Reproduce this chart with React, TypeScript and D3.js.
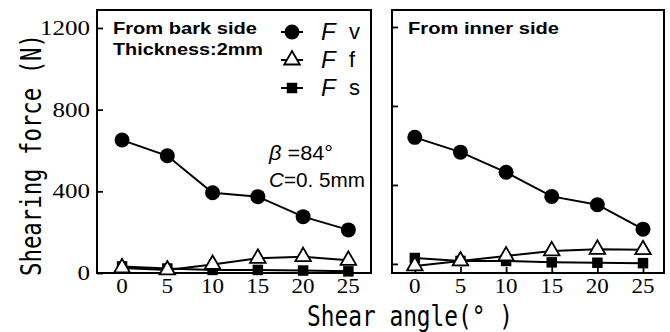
import React, { useRef, useEffect } from 'react';
import { select, scaleLinear, line, symbol, symbolTriangle, symbolSquare, axisBottom, axisLeft } from 'd3';

const angles = [0, 5, 10, 15, 20, 25];
const yTicks = [0, 400, 800, 1200];

// From bark side
const barkFv = [651, 574, 393, 374, 276, 211];
const barkFf = [25, 15, 42, 72, 80, 62];
const barkFs = [32, 22, 15, 15, 12, 8];

// From inner side
const innerFv = [641, 566, 464, 342, 300, 176];
const innerFf = [-10, 15, 40, 66, 74, 72];
const innerFs = [30, 15, 15, 8, 6, 4];

const panels = [
  { key: 'bark', left: 97, right: 371, top: 10, bottom: 273, xDom: [-2.77, 27.5], yDom: [0, 1288], fv: barkFv, ff: barkFf, fs: barkFs, labels: true },
  { key: 'inner', left: 392, right: 664, top: 10, bottom: 273, xDom: [-2.5, 27.3], yDom: [-46, 1286], fv: innerFv, ff: innerFf, fs: innerFs, labels: false },
];

const sans = 'Liberation Sans, Arial, sans-serif';
const serif = 'Liberation Serif, DejaVu Serif, serif';
const mono = 'DejaVu Sans Mono, Liberation Mono, monospace';

const triPath = symbol().type(symbolTriangle).size(105)();
const sqPath = symbol().type(symbolSquare).size(110)();

function Panel({ p }) {
  const xRef = useRef();
  const yRef = useRef();
  const x = scaleLinear().domain(p.xDom).range([p.left, p.right]);
  const y = scaleLinear().domain(p.yDom).range([p.bottom, p.top]);
  const ln = (vals) =>
    line()
      .x((d, i) => x(angles[i]))
      .y((d) => y(d))(vals);

  // tick marks only; labels drawn as JSX below
  useEffect(() => {
    const xa = select(xRef.current);
    xa.call(axisBottom(x).tickValues(angles).tickSize(-6).tickFormat(() => ''));
    xa.select('.domain').remove();
    xa.selectAll('line').attr('stroke', '#000').attr('stroke-width', 1.8);

    const ya = select(yRef.current);
    ya.call(axisLeft(y).tickValues(yTicks).tickSize(-6).tickFormat(() => ''));
    ya.select('.domain').remove();
    ya.selectAll('line').attr('stroke', '#000').attr('stroke-width', 1.8);
  }, []);

  return (
    <g>
      <g ref={xRef} transform={`translate(0,${p.bottom})`} />
      <g ref={yRef} transform={`translate(${p.left},0)`} />
      {angles.map((a) => (
        <text
          key={'xl' + a}
          x={x(a)}
          y={p.bottom + 20}
          textAnchor="middle"
          fontFamily={serif}
          fontSize={21}
          textLength={String(a).length * 11.5}
          lengthAdjust="spacingAndGlyphs"
        >
          {a}
        </text>
      ))}
      {p.labels &&
        yTicks.map((t) => (
          <text
            key={'yl' + t}
            x={p.left - 7}
            y={y(t)}
            dy="0.35em"
            textAnchor="end"
            fontFamily={serif}
            fontSize={20}
            textLength={String(t).length * 12.5}
            lengthAdjust="spacingAndGlyphs"
          >
            {t}
          </text>
        ))}
      <rect x={p.left} y={p.top} width={p.right - p.left} height={p.bottom - p.top} fill="none" stroke="#000" strokeWidth={2} />
      <path d={ln(p.fs)} fill="none" stroke="#000" strokeWidth={2} />
      <path d={ln(p.ff)} fill="none" stroke="#000" strokeWidth={2} />
      <path d={ln(p.fv)} fill="none" stroke="#000" strokeWidth={2} />
      {p.fs.map((d, i) => (
        <path key={'s' + i} d={sqPath} transform={`translate(${x(angles[i])},${y(d)})`} fill="#000" />
      ))}
      {p.ff.map((d, i) => (
        <path key={'t' + i} d={triPath} transform={`translate(${x(angles[i])},${y(d)})`} fill="#fff" stroke="#000" strokeWidth={1.8} />
      ))}
      {p.fv.map((d, i) => (
        <circle key={'c' + i} cx={x(angles[i])} cy={y(d)} r={7.5} fill="#000" />
      ))}
    </g>
  );
}

const legend = [
  { sub: 'v', mark: 'circle' },
  { sub: 'f', mark: 'tri' },
  { sub: 's', mark: 'sq' },
];

export default function App() {
  return (
    <svg width={670} height={332} style={{ position: 'absolute', left: 0, top: 0, background: '#fff' }}>
      {panels.map((p) => (
        <Panel key={p.key} p={p} />
      ))}

      <text x={113} y={34} fontFamily={sans} fontWeight="bold" fontSize={17} textLength={144} lengthAdjust="spacingAndGlyphs">From bark side</text>
      <text x={113} y={55} fontFamily={sans} fontWeight="bold" fontSize={17} textLength={150} lengthAdjust="spacingAndGlyphs">Thickness:2mm</text>
      <text x={408} y={34} fontFamily={sans} fontWeight="bold" fontSize={17} textLength={151} lengthAdjust="spacingAndGlyphs">From inner side</text>

      {legend.map((l, i) => {
        const cy = 32 + i * 28;
        return (
          <g key={l.sub}>
            <line x1={281} x2={303} y1={cy} y2={cy} stroke="#000" strokeWidth={2} />
            {l.mark === 'circle' && <circle cx={292} cy={cy} r={7.5} fill="#000" />}
            {l.mark === 'tri' && <path d={triPath} transform={`translate(292,${cy})`} fill="#fff" stroke="#000" strokeWidth={1.8} />}
            {l.mark === 'sq' && <path d={sqPath} transform={`translate(292,${cy})`} fill="#000" />}
            <text x={321} y={cy + 8} fontFamily={sans} fontStyle="italic" fontSize={24}>F</text>
            <text x={349} y={cy + 7} fontFamily={sans} fontSize={22}>{l.sub}</text>
          </g>
        );
      })}

      <text x={269} y={160} fontFamily={sans} fontSize={20} textLength={64} lengthAdjust="spacingAndGlyphs">
        <tspan fontStyle="italic">β</tspan>
        <tspan> =84°</tspan>
      </text>
      <text x={269} y={187} fontFamily={sans} fontSize={20} textLength={96} lengthAdjust="spacingAndGlyphs">
        <tspan fontStyle="italic">C</tspan>
        <tspan>=0. 5mm</tspan>
      </text>

      <text
        transform="translate(41,155) rotate(-90)"
        textAnchor="middle"
        fontFamily={mono}
        fontSize={28}
        textLength={242}
        lengthAdjust="spacingAndGlyphs"
      >
        Shearing force (N)
      </text>
      <text x={307} y={326} fontFamily={mono} fontSize={29} textLength={206} lengthAdjust="spacingAndGlyphs">
        Shear angle(° )
      </text>
    </svg>
  );
}
